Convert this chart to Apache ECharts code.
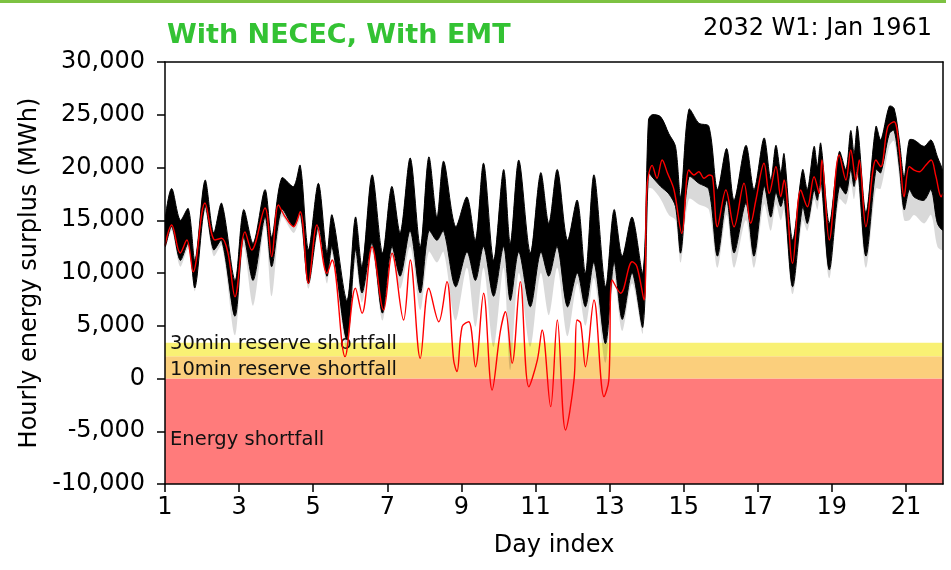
<!DOCTYPE html>
<html><head><meta charset="utf-8">
<script src="https://cdn.jsdelivr.net/npm/echarts@6/dist/echarts.min.js"></script>
<style>html,body{margin:0;padding:0;background:#fff}#c{width:951px;height:570px}</style>
</head><body><div id="c"></div>
<script>
// ---- data ----
const dayTicks = [1,3,5,7,9,11,13,15,17,19,21];
const bandNames = ['Energy shortfall','10min reserve shortfall','30min reserve shortfall'];
const bandFrom = [-10000, 0, 2100];
const bandTo = [0, 2100, 3400];

// red highlighted trace (day, MWh)
const redDay = [1.00,1.18,1.41,1.59,1.76,2.08,2.35,2.53,2.70,2.89,
3.16,3.34,3.70,3.88,4.06,4.24,4.47,4.65,4.87,5.10,
5.37,5.51,5.86,6.14,6.32,6.59,6.90,7.13,7.44,7.62,
7.89,8.12,8.39,8.61,8.79,8.88,9.02,9.20,9.38,9.60,
9.83,10.05,10.19,10.37,10.59,10.82,11.05,11.18,11.41,11.59,
11.81,12.04,12.12,12.22,12.35,12.58,12.85,12.98,13.07,13.30,
13.61,13.74,13.93,14.01,14.15,14.28,14.42,14.56,14.74,14.95,
15.14,15.28,15.41,15.55,15.69,15.78,15.91,16.14,16.36,16.63,
16.81,16.95,17.17,17.31,17.49,17.62,17.71,17.94,18.16,18.34,
18.52,18.66,18.73,18.93,19.20,19.38,19.51,19.65,19.74,19.92,
20.19,20.32,20.51,20.68,20.82,20.95,21.09,21.22,21.36,21.54,
21.68,21.81,21.95,22.00];
const redMWh = [12600,14550,11900,13130,10120,16630,13130,13300,11900,7750,
13900,12180,16160,11550,16450,15340,14390,15810,9020,14550,
9970,11230,2070,8550,6180,12490,6490,11870,5550,11230,
1910,8550,5380,9180,1750,650,4910,5380,1120,8080,
-1090,4440,6330,1440,9180,-780,1750,4600,-2670,5550,
-4880,-140,5550,5260,1120,7440,-1720,-140,9340,8080,
11070,10600,7440,18180,20200,18980,20710,19500,17870,13760,
19760,19290,19600,18980,19290,19100,14390,17870,14390,18500,
14710,16920,20400,17550,20080,17230,18810,10920,17870,16280,
19130,17550,20710,13130,21180,18810,21660,18810,20710,14390,
20710,20080,23870,24340,21660,17230,20080,19760,19600,20240,
20710,19130,17230,17550];

// ensemble envelope (day, upper dense edge, lower dense edge, lowest faint traces)
const ensDay = [1.00,1.18,1.41,1.63,1.81,2.08,2.31,2.53,2.89,3.12,
3.38,3.70,3.88,4.15,4.47,4.65,4.87,5.14,5.37,5.51,
5.91,6.14,6.32,6.59,6.87,7.12,7.35,7.62,7.89,8.12,
8.34,8.52,8.84,9.15,9.38,9.60,9.87,10.14,10.32,10.55,
10.86,11.14,11.36,11.59,11.86,12.13,12.35,12.58,12.89,13.12,
13.34,13.61,13.90,14.05,14.15,14.38,14.60,14.78,14.92,15.14,
15.41,15.68,15.91,16.16,16.36,16.68,16.90,17.17,17.35,17.49,
17.62,17.71,17.94,18.21,18.34,18.52,18.61,18.70,18.93,19.20,
19.38,19.51,19.60,19.69,19.92,20.19,20.32,20.55,20.68,20.82,
20.95,21.09,21.22,21.49,21.68,21.85,22.00];
const ensHigh = [15000,18000,15000,16100,11200,18800,13800,16600,9300,16000,
12800,17900,13400,19000,18200,20200,12200,18500,11900,15500,
7400,15300,10600,19300,11900,18200,13800,20900,12500,21000,
15300,20600,14400,17200,13100,20400,11200,19800,12800,20700,
11900,19500,14700,19800,13100,16900,10000,19300,8700,16000,
11600,15300,10000,24500,25000,24800,23200,22000,17200,25500,
24200,23900,17900,21800,16900,22100,17900,22800,18800,22100,
19500,21300,13100,19800,17900,22000,20100,22300,14700,21500,
19800,23500,21300,23900,15700,23900,22600,25800,25600,22600,
19100,22600,22600,22000,22600,21000,19500];
const ensLow = [12500,14400,11200,12800,8600,16300,12200,13100,5900,13400,
9300,15300,10600,16000,14400,15700,9000,14400,9700,12500,
3700,12200,8100,12800,6200,12500,9700,14000,8100,14000,
13100,14000,8700,12000,9300,12500,7800,12500,7400,12000,
6800,12000,9700,12500,6800,10000,6800,11000,3300,11000,
5600,10000,4900,19500,19100,18200,17500,16300,11900,19100,
18500,17900,11600,16900,11900,16600,11600,18200,15300,17600,
16300,17200,8700,16300,14700,17900,16900,19100,10300,18200,
17500,19800,18200,20100,11600,19800,19500,23200,23500,20100,
16000,17900,17200,16900,17900,14700,14100];
const ensFringe = [12200,14000,10600,12300,8300,15800,11600,12600,4100,12500,
6900,14500,7800,15300,13800,15000,8500,13800,9000,11800,
2800,11000,7200,12000,5500,11500,8500,12500,6500,12000,
11000,12000,5500,10500,4900,10500,3000,10500,800,10000,
3000,10000,6000,10500,4000,9000,5000,9500,1500,9500,
4500,9000,4300,18000,18000,17000,15500,15000,11000,17000,
16500,16000,10500,15500,10500,15000,10500,16500,14000,16500,
15000,16000,8000,15000,14000,17000,16000,18000,9500,17000,
16500,18500,17000,19000,10500,18000,18000,22000,22500,19000,
15000,15000,15500,14700,15500,12500,12200];

// ---- styles ----
const FONT = 'DejaVu Sans';
const bandColors = ['#ff7b7b', '#fbcf7c', '#f9f174'];
const bandTextOffset = [9, 3, -6];

function envelope(upper, lower, style) {
  return function (params, api) {
    if (params.dataIndex > 0) return null;
    const pts = [];
    for (let i = 0; i < ensDay.length; i++) pts.push(api.coord([ensDay[i], upper[i]]));
    for (let i = ensDay.length - 1; i >= 0; i--) pts.push(api.coord([ensDay[i], lower[i]]));
    return { type: 'polygon', shape: { points: pts, smooth: 0.3 }, style: style };
  };
}

const chart = echarts.init(document.getElementById('c'), null, { renderer: 'canvas' });
const axisLineStyle = { color: '#000', width: 1.5 };
chart.setOption({
  animation: false,
  backgroundColor: '#fff',
  graphic: [{ type: 'rect', shape: { x: 0, y: 0, width: 946, height: 3 }, style: { fill: '#7dc242' }, z: 100 }],
  title: [
    { text: 'With NECEC, With EMT', left: 162, top: 17, padding: 5,
      textStyle: { color: '#33c233', fontSize: 27, fontWeight: 'bold', fontFamily: FONT } },
    { text: '2032 W1: Jan 1961', right: 14, top: 12, padding: 5,
      textStyle: { color: '#000', fontSize: 24, fontWeight: 'normal', fontFamily: FONT } }
  ],
  grid: { left: 165, right: 8, top: 62, bottom: 86, containLabel: false },
  xAxis: [
    { type: 'value', min: 1, max: 22, interval: 2,
      axisLine: { show: true, onZero: false, lineStyle: axisLineStyle },
      axisTick: { show: true, length: 8, lineStyle: axisLineStyle, customValues: dayTicks },
      axisLabel: { color: '#000', fontSize: 24, fontFamily: FONT, margin: 12, customValues: dayTicks },
      splitLine: { show: false },
      name: 'Day index', nameLocation: 'middle', nameGap: 50,
      nameTextStyle: { fontSize: 24, color: '#000', fontFamily: FONT }, z: 10 },
    { type: 'value', min: 1, max: 22, position: 'top',
      axisLine: { show: true, onZero: false, lineStyle: axisLineStyle },
      axisTick: { show: false }, axisLabel: { show: false }, splitLine: { show: false }, z: 10 }
  ],
  yAxis: [
    { type: 'value', min: -10000, max: 30000, interval: 5000,
      axisLine: { show: true, onZero: false, lineStyle: axisLineStyle },
      axisTick: { show: true, length: 8, lineStyle: axisLineStyle },
      axisLabel: { color: '#000', fontSize: 24, fontFamily: FONT, margin: 20,
        formatter: v => v.toLocaleString('en-US') },
      splitLine: { show: false },
      name: 'Hourly energy surplus (MWh)', nameLocation: 'middle', nameGap: 123,
      nameTextStyle: { fontSize: 24, color: '#000', fontFamily: FONT }, z: 10 },
    { type: 'value', min: -10000, max: 30000, position: 'right',
      axisLine: { show: true, onZero: false, lineStyle: axisLineStyle },
      axisTick: { show: false }, axisLabel: { show: false }, splitLine: { show: false }, z: 10 }
  ],
  series: [
    { type: 'custom', name: 'bands', z: 1, clip: true, silent: true,
      data: bandNames.map((n, i) => [1, bandFrom[i], bandTo[i]]),
      encode: { x: 0, y: [1, 2] },
      renderItem: function (params, api) {
        const i = params.dataIndex;
        const cs = params.coordSys;
        const yTop = api.coord([1, bandTo[i]])[1];
        const yBot = api.coord([1, bandFrom[i]])[1];
        return { type: 'group', children: [
          { type: 'rect', shape: { x: cs.x, y: yTop, width: cs.width, height: yBot - yTop },
            style: { fill: bandColors[i] } },
          { type: 'text', z2: 5, style: { text: bandNames[i], x: cs.x + 5, y: (yTop + yBot) / 2 + bandTextOffset[i],
            verticalAlign: 'middle', align: 'left', fontSize: 19.5, fontFamily: FONT, fill: '#111' } }
        ]};
      } },
    { type: 'custom', name: 'faint', z: 2, clip: true, silent: true,
      data: [[ensDay[0], ensHigh[0]]],
      renderItem: envelope(ensLow, ensFringe, { fill: 'rgba(0,0,0,0.15)' }) },
    { type: 'custom', name: 'ensemble', z: 3, clip: true, silent: true,
      data: [[ensDay[0], ensHigh[0]]],
      renderItem: envelope(ensHigh, ensLow, { fill: '#000', stroke: '#000', lineWidth: 1 }) },
    { type: 'line', name: 'selected', z: 4, clip: true, silent: true,
      data: redDay.map((d, i) => [d, redMWh[i]]),
      showSymbol: false, symbol: 'none', smooth: 0.35,
      lineStyle: { color: '#ff0000', width: 1.4 } }
  ]
});
</script></body></html>
